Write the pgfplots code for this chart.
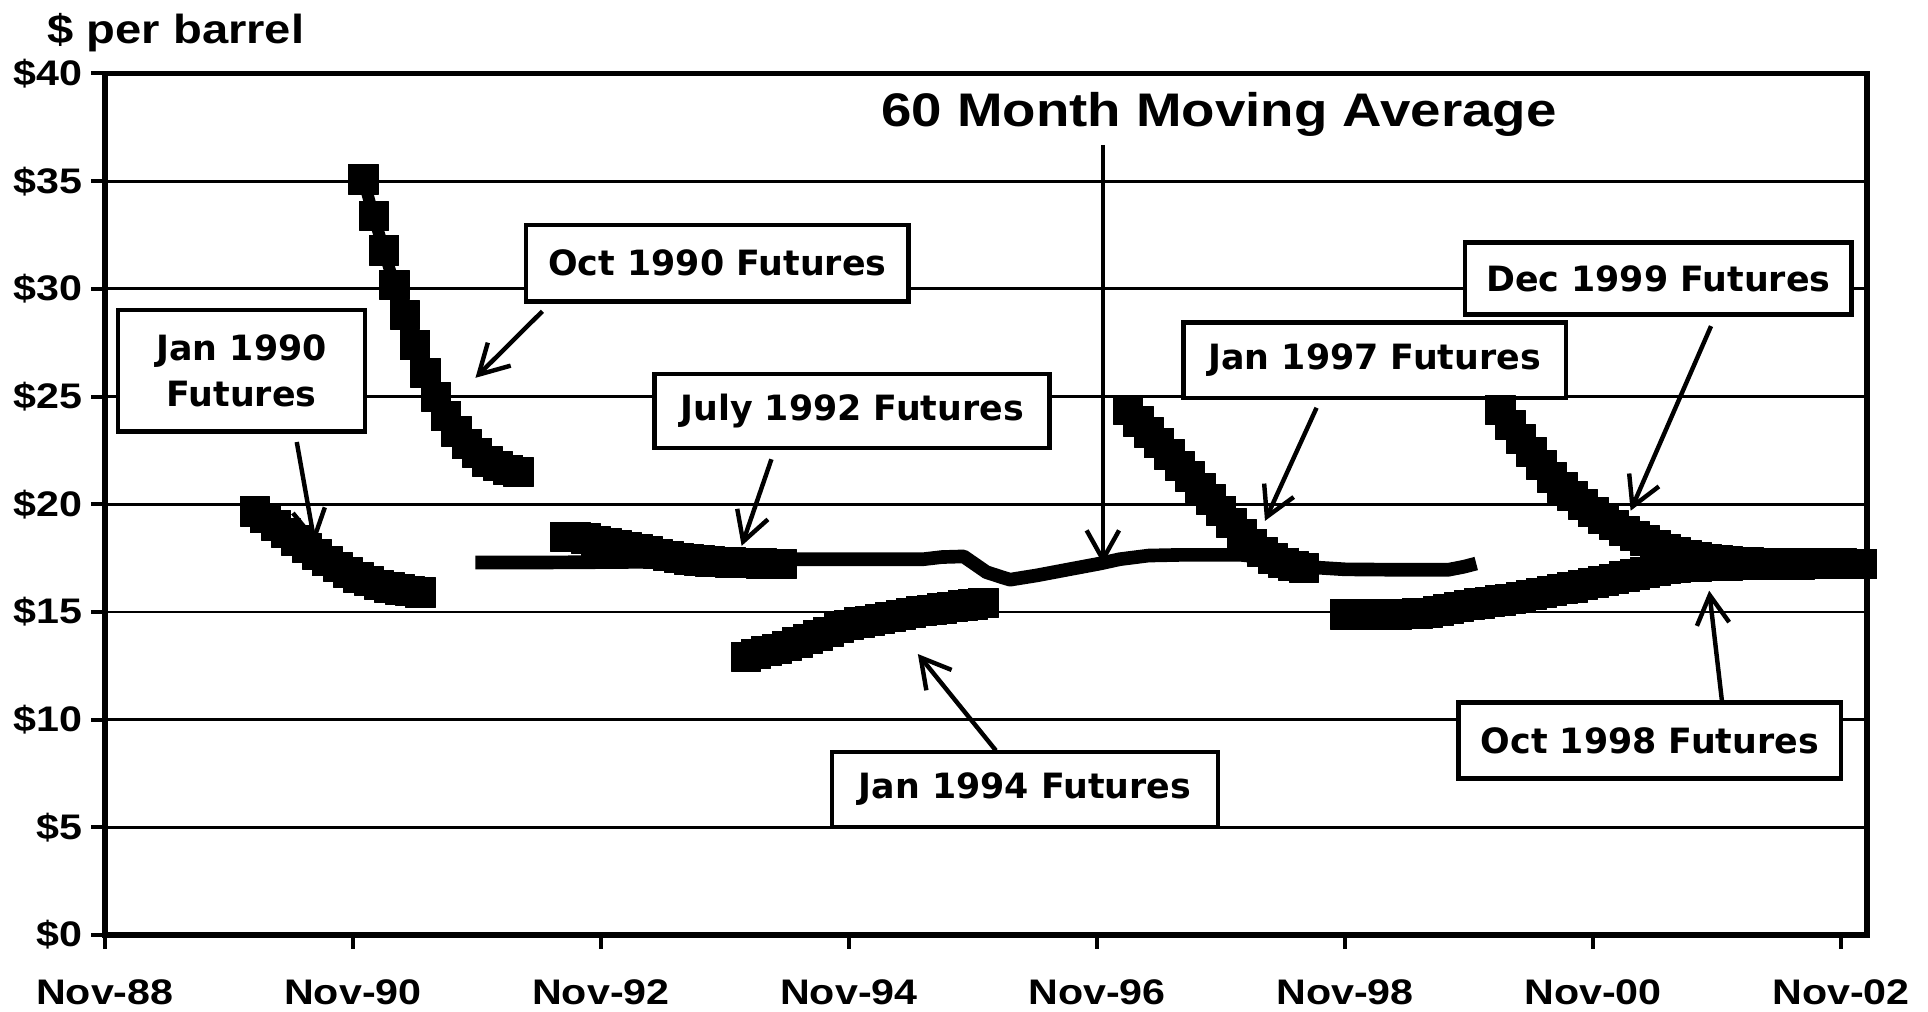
\documentclass[border=0pt]{standalone}
\usepackage{pgfplots}
\pgfplotsset{compat=1.18}
\usepackage{fontspec}
\usetikzlibrary{arrows.meta}
\setmainfont{Liberation Sans}
\newfontfamily\arialx{Liberation Sans}[FakeStretch=1.16]
\newfontfamily\boxf{DejaVu Sans}
\tikzset{
  fut/.style={black, line width=3.5pt, line join=round, mark=square*, mark size=4.3pt,
              mark options={solid, fill=black, draw=black, line width=0.1pt}},
  arr/.style={line width=1.3pt, -{Straight Barb[length=8.5pt, width=9.5pt]}},
  bx/.style={draw=black, line width=1.3pt, fill=white, inner sep=0pt, align=center,
             font=\boxf\bfseries\fontsize{10.2}{13.7}\selectfont},
}

\begin{document}
\begin{tikzpicture}
\useasboundingbox (-30.7pt,-22.5pt) rectangle (533.8pt,273.8pt);
\begin{axis}[
  at={(0,0)}, anchor=south west,
  scale only axis, width=515.9pt, height=252.3pt,
  xmin=0, xmax=170.5, ymin=0, ymax=40,
  clip=false,
  axis line style={line width=1.6pt},
  xtick={0,24,...,168},
  xticklabels={Nov-88,Nov-90,Nov-92,Nov-94,Nov-96,Nov-98,Nov-00,Nov-02},
  ytick={0,5,...,40},
  yticklabels={\$0,\$5,\$10,\$15,\$20,\$25,\$30,\$35,\$40},
  tick align=outside, xtick pos=bottom, ytick pos=left,
  major tick length=4pt,
  tick style={black, line width=1.2pt},
  ymajorgrids, grid style={black, line width=0.8pt},
  tick label style={font=\arialx\bfseries\fontsize{10.4}{12}\selectfont},
  xticklabel style={yshift=-5.5pt},
  yticklabel style={xshift=1pt},
]
% 60 month moving average
\addplot[black, line width=4pt, line cap=butt, line join=round] coordinates {
(35.85,17.3) (43,17.3) (50,17.32) (56,17.36) (62,17.4) (67,17.45) (74.4,17.45)
(79.2,17.45) (81,17.55) (83.1,17.58) (84.4,17.15) (85.3,16.85) (86.9,16.6)
(87.6,16.5) (90.2,16.7) (93.4,16.99) (96.3,17.25) (98.2,17.45) (101,17.62)
(104,17.65) (110,17.65) (113,17.5) (115,17.25) (117,17.07) (120,16.98)
(125,16.96) (130,16.96) (131.5,17.1) (132.7,17.25)};
% Jan 1990 futures
\addplot[fut] coordinates {
(14.5,19.68) (15.5,19.37) (16.5,19.03) (17.5,18.69) (18.5,18.34) (19.5,18.00)
(20.5,17.68) (21.5,17.37) (22.5,17.10) (23.5,16.85) (24.5,16.62) (25.5,16.45)
(26.5,16.28) (27.5,16.15) (28.5,16.06) (29.5,15.99) (30.5,15.92)};
% Oct 1990 futures
\addplot[fut] coordinates {
(25,35.1) (26,33.4) (27,31.8) (28,30.2) (29,28.8) (30,27.4) (31,26.1) (32,25.0)
(33,24.1) (34,23.4) (35,22.8) (36,22.4) (37,22.0) (38,21.8) (39,21.6) (40,21.5)};
% July 1992 futures
\addplot[fut] coordinates {
(44.5,18.5) (45.5,18.5) (46.5,18.42) (47.5,18.3) (48.5,18.2) (49.5,18.12)
(50.5,18.02) (51.5,17.92) (52.5,17.82) (53.5,17.72) (54.5,17.62) (55.5,17.53)
(56.5,17.46) (57.5,17.4) (58.5,17.36) (59.5,17.34) (60.5,17.32) (61.5,17.3)
(62.5,17.28) (63.5,17.26) (64.5,17.25) (65.5,17.25)};
% Jan 1994 futures
\addplot[fut] coordinates {
(62,12.93) (63,13.06) (64,13.19) (65,13.31) (66,13.44) (67,13.6) (68,13.77)
(69,13.93) (70,14.1) (71,14.26) (72,14.42) (73,14.52) (74,14.61) (75,14.7)
(76,14.79) (77,14.88) (78,14.97) (79,15.06) (80,15.12) (81,15.18) (82,15.25)
(83,15.31) (84,15.37) (85,15.43)};
% Jan 1997 futures
\addplot[fut] coordinates {
(99,24.4) (100,23.85) (101,23.35) (102,22.85) (103,22.33) (104,21.8) (105,21.3)
(106,20.78) (107,20.24) (108,19.7) (109,19.15) (110,18.65) (111,18.18) (112,17.8)
(113,17.5) (114,17.3) (115,17.15) (116,17.07)};
% Oct 1998 futures
\addplot[fut] coordinates {
(120,14.9) (121,14.9) (122,14.9) (123,14.9) (124,14.9) (125,14.9) (126,14.92)
(127,14.95) (128,14.98) (129,15.05) (130,15.15) (131,15.25) (132,15.33) (133,15.41)
(134,15.48) (135,15.55) (136,15.63) (137,15.71) (138,15.8) (139,15.89) (140,15.98)
(141,16.07) (142,16.16) (143,16.26) (144,16.36) (145,16.46) (146,16.56) (147,16.66)
(148,16.76) (149,16.85) (150,16.93) (151,17.0) (152,17.06) (153,17.1) (154,17.13)
(155,17.15) (156,17.17) (157,17.18) (158,17.19) (159,17.2) (160,17.2) (161,17.21)
(162,17.21) (163,17.22) (164,17.22) (165,17.23) (166,17.23) (167,17.24) (168,17.24)
(169,17.25) (170,17.25)};
% Dec 1999 futures
\addplot[fut] coordinates {
(135,24.4) (136,23.7) (137,23.05) (138,22.45) (139,21.85) (140,21.25) (141,20.8)
(142,20.4) (143,20.0) (144,19.65) (145,19.35) (146,19.05) (147,18.78) (148,18.54)
(149,18.33) (150,18.13) (151,17.95) (152,17.78) (153,17.67) (154,17.57) (155,17.48)
(156,17.42) (157,17.38) (158,17.35) (159,17.32) (160,17.3) (161,17.3) (162,17.29)
(163,17.28) (164,17.28) (165,17.27) (166,17.27) (167,17.26) (168,17.26) (169,17.25)
(170,17.25)};

% arrows
\draw[arr] (axis cs:18.57,22.89) -- (axis cs:20.31,18.19);
\draw[arr] (axis cs:42.34,28.96) -- (axis cs:35.86,25.87);
\draw[arr] (axis cs:64.5,22.09) -- (axis cs:61.62,18.07);
\draw[arr] (axis cs:86.22,8.57) -- (axis cs:78.67,13.05);
\draw[arr] (axis cs:96.57,36.68) -- (axis cs:96.57,17.23);
\draw[arr] (axis cs:117.25,24.48) -- (axis cs:112.26,19.23);
\draw[arr] (axis cs:155.42,28.27) -- (axis cs:147.64,19.7);
\draw[arr] (axis cs:156.47,10.89) -- (axis cs:155.24,15.99);

% boxes
\node[bx, minimum width=72.4pt, minimum height=35.6pt] at (axis cs:13.23,26.2) {Jan 1990\\Futures};
\node[bx, minimum width=112pt, minimum height=22.3pt] at (axis cs:59.27,31.19) {Oct 1990 Futures};
\node[bx, minimum width=115.6pt, minimum height=21.6pt] at (axis cs:72.3,24.33) {July 1992 Futures};
\node[bx, minimum width=113pt, minimum height=22pt] at (axis cs:89.03,6.76) {Jan 1994 Futures};
\node[bx, minimum width=112pt, minimum height=22pt] at (axis cs:122.87,26.69) {Jan 1997 Futures};
\node[bx, minimum width=113.2pt, minimum height=21.2pt] at (axis cs:150.31,30.48) {Dec 1999 Futures};
\node[bx, minimum width=112pt, minimum height=22.3pt] at (axis cs:149.49,9.04) {Oct 1998 Futures};

\node[anchor=base west, inner sep=0pt, font=\arialx\bfseries\fontsize{13.8}{16}\selectfont]
  at (axis cs:75.06,37.52) {60 Month Moving Average};
\end{axis}
\node[anchor=base west, inner sep=0pt, font=\arialx\bfseries\fontsize{11.9}{14}\selectfont]
  at (-17pt,261pt) {\$ per barrel};
\end{tikzpicture}
\end{document}
